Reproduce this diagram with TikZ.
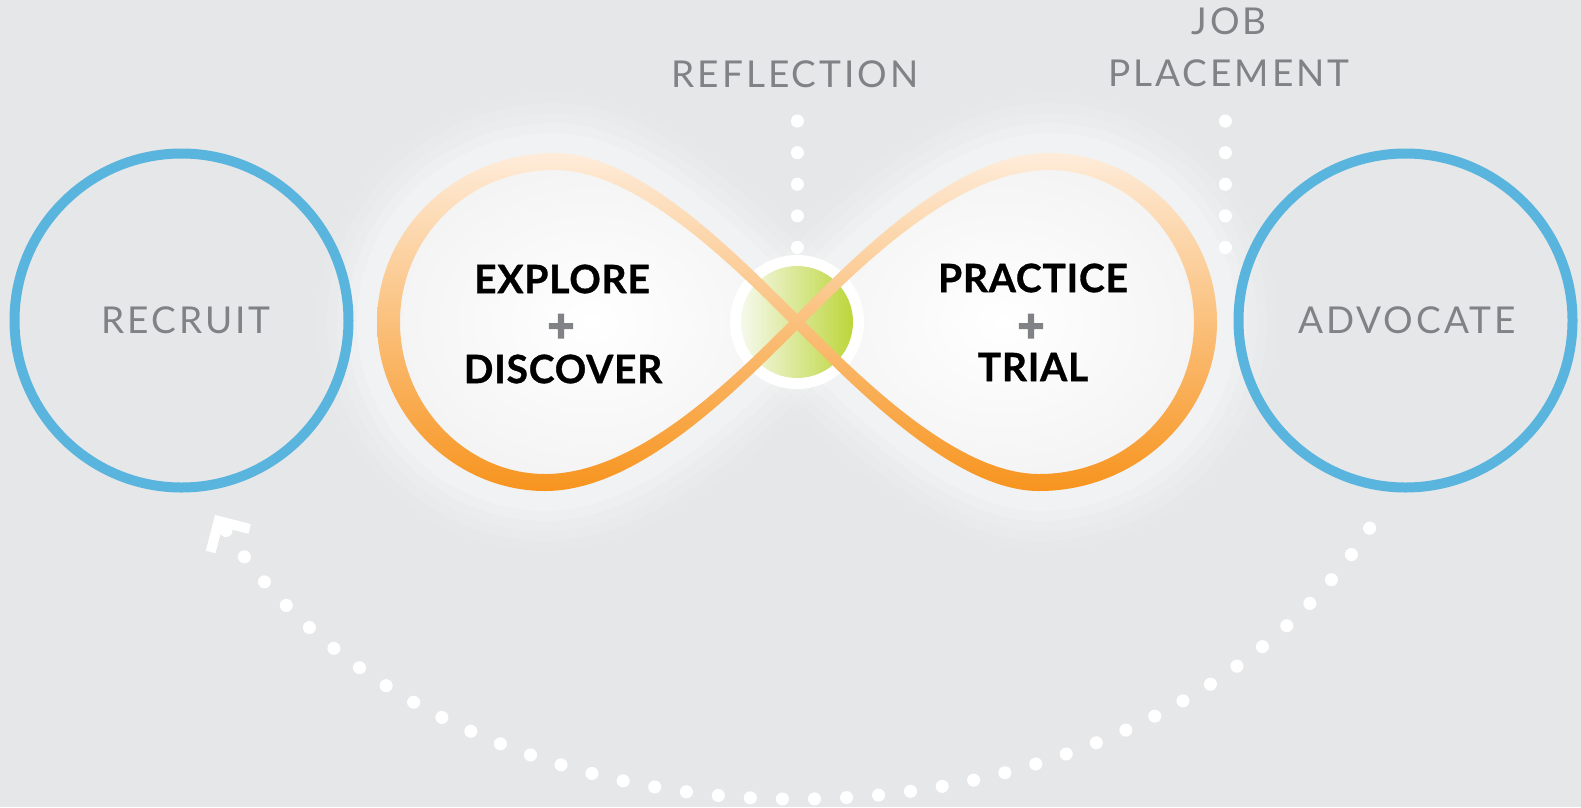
\documentclass[tikz,border=0pt]{standalone}
\usepackage{fontspec}
\setmainfont{Lato}
\newfontfamily\lightf{Lato}[LetterSpace=8]
\newfontfamily\heavyf{Lato}[LetterSpace=2,FakeBold=0.8]
\newfontfamily\plusf{Lato}[FakeBold=4]
\usetikzlibrary{calc}
\definecolor{bgc}{RGB}{230,231,232}
\definecolor{blueC}{RGB}{89,180,222}
\definecolor{grayT}{RGB}{128,130,133}
\definecolor{orTop}{RGB}{254,236,218}
\definecolor{orMid}{RGB}{252,184,110}
\definecolor{orBot}{RGB}{247,148,30}
\definecolor{grL}{RGB}{246,249,236}
\definecolor{grR}{RGB}{188,214,58}
\definecolor{inEdge}{RGB}{243,243,243}
\def\LO{(805,322) .. controls (740,257) and (640,153) .. (555,153) .. controls (457,153) and (377,229) .. (377,322) .. controls (377,415) and (455,491) .. (545,491) .. controls (640,491) and (740,387) .. cycle}
\def\LI{(789,322) .. controls (728,261) and (635,170) .. (555,170) .. controls (467,170) and (400,238) .. (400,322) .. controls (400,406) and (467,474) .. (545,474) .. controls (635,474) and (728,383) .. cycle}
\def\RO{(789,322) .. controls (854,387) and (954,491) .. (1039,491) .. controls (1137,491) and (1217,415) .. (1217,322) .. controls (1217,229) and (1139,153) .. (1049,153) .. controls (954,153) and (854,257) .. cycle}
\def\RI{(805,322) .. controls (866,383) and (959,474) .. (1039,474) .. controls (1127,474) and (1194,406) .. (1194,322) .. controls (1194,238) and (1127,170) .. (1049,170) .. controls (959,170) and (866,261) .. cycle}
\begin{document}
\begin{tikzpicture}[x=1pt,y=-1pt,
  ring/.style={circle, draw=blueC, line width=10pt, minimum size=334pt, inner sep=0pt},
  lbl/.style={text=grayT, font=\lightf\fontsize{37}{52}\selectfont, inner sep=0pt, align=center},
  boldlbl/.style={text=black, font=\heavyf\bfseries\fontsize{39}{44}\selectfont, inner sep=0pt},
  plusn/.style={text=grayT, font=\plusf\bfseries\fontsize{46}{46}\selectfont, inner sep=0pt},
  dots/.style={white, line width=13pt, line cap=round, dash pattern=on 0.1pt off 32pt},
  vdots/.style={white, line width=13pt, line cap=round, dash pattern=on 0.1pt off 31.5pt},
  chev/.style={white, line width=10pt, line join=miter, line cap=butt},
  band/.style={even odd rule, top color=orTop, middle color=orMid, bottom color=orBot}
]
\fill[bgc] (0,0) rectangle (1581,807);
\useasboundingbox (0,0) rectangle (1581,807);
\coordinate (cross) at (797,322);
% glow
\foreach \w/\o in {120/0.08, 100/0.10, 80/0.13, 60/0.17, 40/0.22} {
  \draw[white, opacity=\o, line width=\w pt] \LO;
  \draw[white, opacity=\o, line width=\w pt] \RO;
}
% lobe interiors
\shade[inner color=white, outer color=inEdge] \LO;
\shade[inner color=white, outer color=inEdge] \RO;
% hub
\node[circle, fill=white, minimum size=134pt, inner sep=0pt] (hub) at (cross) {};
\shade[left color=grL, right color=grR] (cross) circle (56);
% bands
\shade[band] \LO \LI;
\shade[band] \RO \RI;
% side circles
\node[ring] (recruit) at (181.5,320.5) {};
\node[ring] (advocate) at (1405.5,320.5) {};
\node[lbl] (recruitT) at (186,320) {RECRUIT};
\node[lbl] (advocateT) at (1407,320) {ADVOCATE};
% top labels
\node[lbl] (reflT) at (795,74) {REFLECTION};
\node[lbl] (jobT) at (1229,47) {JOB\\PLACEMENT};
% center texts
\node[boldlbl] (explore) at (562,279) {EXPLORE};
\node[plusn] (plusA) at (561,328) {+};
\node[boldlbl] (discover) at (563,369) {DISCOVER};
\node[boldlbl] (practice) at (1033,278) {PRACTICE};
\node[plusn] (plusB) at (1031,328) {+};
\node[boldlbl] (trial) at (1033,367) {TRIAL};
% vertical dotted connectors
\coordinate (reflTop) at (797,121);
\coordinate (reflEnd) at (797,249);
\draw[vdots] (reflTop) -- (reflEnd);
\coordinate (jobTop) at (1225,121);
\coordinate (jobEnd) at (1225,249);
\draw[vdots] (jobTop) -- (jobEnd);
% bottom dotted return arc
\draw[dots] (cross) ++(25.6:635 and 477) arc[start angle=25.6, end angle=154.5, x radius=635, y radius=477];
\coordinate (arrowtip) at (218.6,521);
\draw[chev] (arrowtip) ++(-7.9,31) -- (arrowtip) -- ++(31,7.9);
\end{tikzpicture}
\end{document}
